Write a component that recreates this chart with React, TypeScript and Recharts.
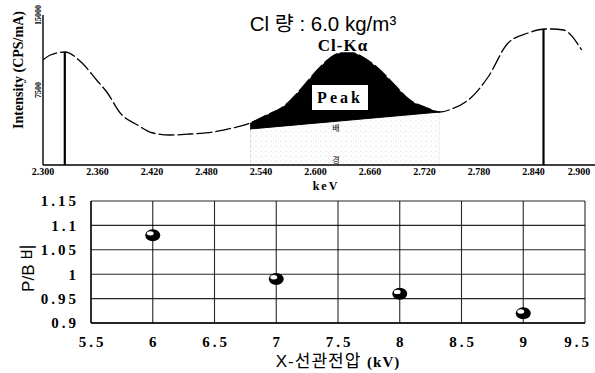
import React from "react";
import {
  ComposedChart,
  Line,
  Area,
  XAxis,
  YAxis,
  ReferenceLine,
  ScatterChart,
  Scatter,
  CartesianGrid,
} from "recharts";

// ---------- Top panel: Cl-Kα spectrum ----------
const energyKeV = [
  2.3, 2.308, 2.324, 2.343, 2.359, 2.371, 2.385, 2.404, 2.421, 2.44, 2.462,
  2.487, 2.509, 2.528, 2.546, 2.564, 2.583, 2.602, 2.616, 2.627, 2.641, 2.652,
  2.671, 2.685, 2.704, 2.723, 2.737, 2.75, 2.772, 2.79, 2.812, 2.834, 2.853,
  2.86, 2.873, 2.893,
];
const intensity = [
  10500, 11000, 11300, 10200, 8500, 7200, 5200, 4000, 3200, 3000, 3100, 3300,
  3700, 4200, 5000, 5800, 7500, 9500, 10700, 11200, 11200, 10800, 9500, 8200,
  6500, 5700, 5300, 5600, 6800, 8800, 12200, 13200, 13600, 13600, 13500, 11500,
];
const peakRange = [2.528, 2.737];
const backgroundLevels = [3600, 5300];
const spectrumTicks = [2.3, 2.36, 2.42, 2.48, 2.54, 2.6, 2.66, 2.72, 2.78, 2.84, 2.9];
const intensityTicks = [7500, 15000];
const markerLines = [
  { e: 2.324, top: 11300 },
  { e: 2.851, top: 13600 },
];

const spectrumRows = energyKeV.map((e, i) => ({
  e,
  v: intensity[i],
  peak: e >= peakRange[0] && e <= peakRange[1] ? intensity[i] : null,
  bg: e === peakRange[0] ? backgroundLevels[0] : e === peakRange[1] ? backgroundLevels[1] : null,
}));

// ---------- Bottom panel: P/B ratio vs tube voltage ----------
const tubeVoltage = [6, 7, 8, 9];
const pbRatio = [1.08, 0.99, 0.96, 0.92];
const voltageTicks = [5.5, 6, 6.5, 7, 7.5, 8, 8.5, 9, 9.5];
const ratioTicks = [0.9, 0.95, 1, 1.05, 1.1, 1.15];
const pbRows = tubeVoltage.map((x, i) => ({ x, y: pbRatio[i] }));

const serif = "'Liberation Serif', 'Times New Roman', serif";
const sans = "'Liberation Sans', 'Noto Sans CJK KR', sans-serif";

const TopXTick = (props: any) => {
  const { x, y, payload } = props;
  return (
    <text x={Math.min(x, 579)} y={y + 10} textAnchor="middle" fontFamily={serif} fontWeight="bold" fontSize={10} fill="#000">
      {Number(payload.value).toFixed(3)}
    </text>
  );
};

const TopYTick = (props: any) => {
  const { x, y, payload } = props;
  const tx = x - 2;
  return (
    <text
      x={tx}
      y={y}
      transform={`rotate(-90, ${tx}, ${y})`}
      textAnchor="middle"
      fontFamily={serif}
      fontWeight="bold"
      fontSize={8}
      fill="#000"
    >
      {payload.value}
    </text>
  );
};

const BottomXTick = (props: any) => {
  const { x, y, payload } = props;
  return (
    <text
      x={Math.min(x + 1.5, 578)}
      y={y + 11}
      textAnchor="middle"
      fontFamily={serif}
      fontWeight="bold"
      fontSize={15}
      letterSpacing={3}
      fill="#000"
    >
      {payload.value}
    </text>
  );
};

const Ball = (props: any) => {
  const { cx, cy } = props;
  return (
    <g>
      <ellipse cx={cx} cy={cy} rx={7.5} ry={6} fill="#000" />
      <ellipse cx={cx - 2.5} cy={cy - 1.8} rx={3.4} ry={2.2} fill="#fff" />
    </g>
  );
};

export default function App() {
  return (
    <div style={{ position: "absolute", left: 0, top: 0, width: 595, height: 373, background: "#fff", overflow: "hidden" }}>
      <div style={{ position: "absolute", left: 0, top: 0 }}>
        <ComposedChart width={595} height={190} data={spectrumRows} margin={{ top: 15, right: 0, left: 0, bottom: 0 }}>
          <defs>
            <pattern id="dots" width="5" height="5" patternUnits="userSpaceOnUse">
              <rect width="5" height="5" fill="#fff" />
              <circle cx="1" cy="1" r="0.6" fill="#c8c8c8" />
              <circle cx="3.5" cy="3" r="0.5" fill="#dcdcdc" />
            </pattern>
          </defs>
          <XAxis
            dataKey="e"
            type="number"
            domain={[2.3, 2.9077]}
            ticks={spectrumTicks}
            interval={0}
            tick={<TopXTick />}
            tickLine={false}
            tickSize={0}
            tickMargin={0}
            height={25}
            axisLine={{ stroke: "#000", strokeWidth: 1.6 }}
            allowDataOverflow
          />
          <YAxis
            type="number"
            domain={[0, 15000]}
            ticks={intensityTicks}
            interval={0}
            tick={<TopYTick />}
            tickLine={false}
            tickSize={0}
            tickMargin={0}
            width={43}
            axisLine={{ stroke: "#000", strokeWidth: 1.4 }}
          />
          <Area
            dataKey="peak"
            type="monotone"
            fill="#000"
            fillOpacity={1}
            stroke="none"
            isAnimationActive={false}
          />
          <Area
            dataKey="bg"
            type="linear"
            fill="url(#dots)"
            fillOpacity={1}
            stroke="#000"
            strokeWidth={1}
            connectNulls
            isAnimationActive={false}
          />
          <Line
            dataKey="v"
            type="monotone"
            stroke="#000"
            strokeWidth={1.3}
            strokeDasharray="16 3"
            dot={false}
            isAnimationActive={false}
          />
          {markerLines.map((m) => (
            <ReferenceLine
              key={m.e}
              segment={[
                { x: m.e, y: 0 },
                { x: m.e, y: m.top },
              ]}
              stroke="#000"
              strokeWidth={2.2}
            />
          ))}
        </ComposedChart>
      </div>

      <div style={{ position: "absolute", left: 0, top: 185 }}>
        <ScatterChart width={595} height={188} margin={{ top: 16, right: 10, left: 0, bottom: 0 }}>
          <CartesianGrid stroke="#000" strokeWidth={1.1} strokeOpacity={0.85} />
          <XAxis
            dataKey="x"
            type="number"
            domain={[5.5, 9.5]}
            ticks={voltageTicks}
            interval={0}
            tickLine={false}
            tickSize={0}
            tickMargin={13}
            height={50}
            axisLine={{ stroke: "#000", strokeWidth: 1.3 }}
            tick={<BottomXTick />}
          />
          <YAxis
            dataKey="y"
            type="number"
            domain={[0.9, 1.15]}
            ticks={ratioTicks}
            interval={0}
            tickLine={false}
            tickSize={0}
            tickMargin={12}
            width={91}
            axisLine={{ stroke: "#000", strokeWidth: 1.3 }}
            tick={{ fill: "#000", fontFamily: serif, fontWeight: "bold", fontSize: 15, letterSpacing: 3 }}
          />
          <Scatter data={pbRows} shape={<Ball />} isAnimationActive={false} />
        </ScatterChart>
      </div>

      <svg width={595} height={373} style={{ position: "absolute", left: 0, top: 0, pointerEvents: "none" }}>
        <text x={323} y={31} textAnchor="middle" fontFamily={sans} fontSize={20.5} fill="#000">
          Cl 량 : 6.0 kg/m³
        </text>
        <text x={343} y={51} textAnchor="middle" fontFamily={serif} fontWeight="bold" fontSize={17} fill="#000" letterSpacing={1}>
          Cl-Kα
        </text>
        <rect x={312} y={85} width={56} height={25} fill="#fff" />
        <text x={340} y={103} textAnchor="middle" fontFamily={serif} fontWeight="bold" fontSize={16} letterSpacing={3} fill="#000">
          Peak
        </text>
        <text x={336} y={131} textAnchor="middle" fontFamily={sans} fontSize={8} fill="#000">
          배
        </text>
        <text x={336} y={163} textAnchor="middle" fontFamily={sans} fontSize={8} fill="#000">
          경
        </text>
        <text x={326} y={190} textAnchor="middle" fontFamily={serif} fontWeight="bold" fontSize={12} letterSpacing={2} fill="#000">
          keV
        </text>
        <text
          x={23}
          y={70}
          transform="rotate(-90, 23, 70)"
          textAnchor="middle"
          fontFamily={serif}
          fontWeight="bold"
          fontSize={14}
          fill="#000"
        >
          Intensity (CPS/mA)
        </text>
        <text
          x={34}
          y={268}
          transform="rotate(-90, 34, 268)"
          textAnchor="middle"
          fontFamily={sans}
          fontSize={17}
          fill="#000"
        >
          P/B 비
        </text>
        <text x={338} y={367} textAnchor="middle" fill="#000">
          <tspan fontFamily={sans} fontSize={17} letterSpacing={1}>X-선관전압 </tspan>
          <tspan fontFamily={serif} fontWeight="bold" fontSize={15} letterSpacing={1}>(kV)</tspan>
        </text>
      </svg>
    </div>
  );
}
